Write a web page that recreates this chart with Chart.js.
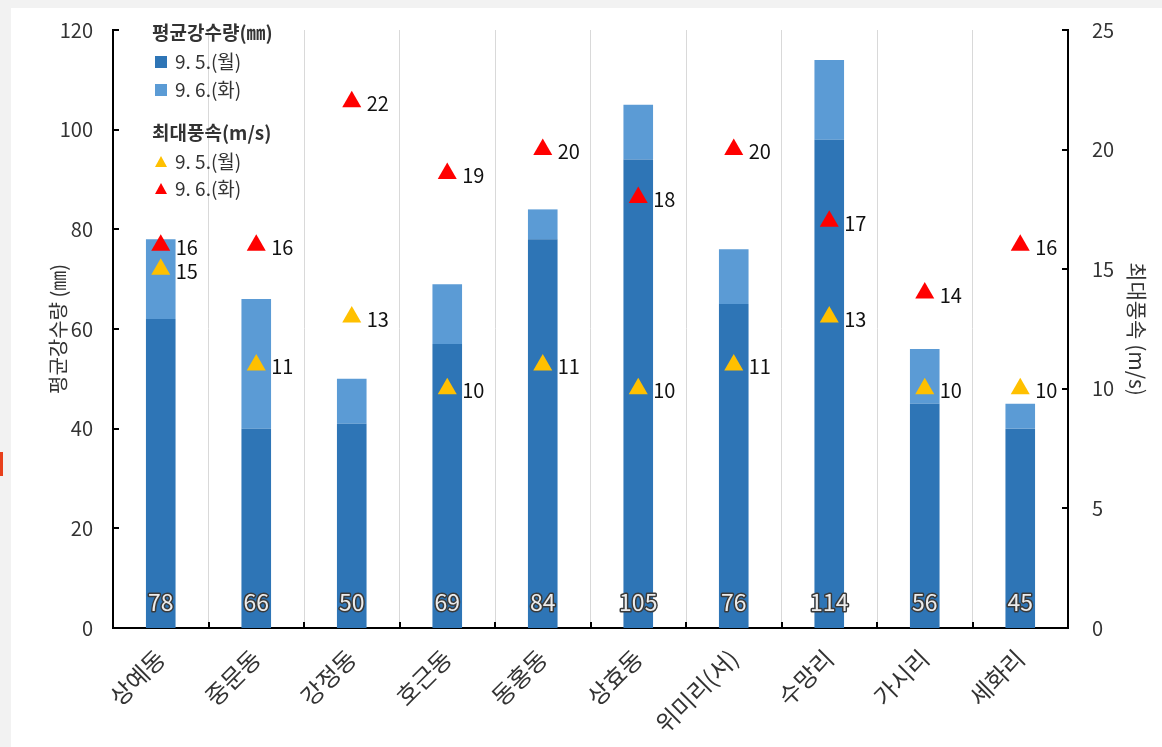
<!DOCTYPE html>
<html><head><meta charset="utf-8">
<script src="https://cdn.jsdelivr.net/npm/chart.js@4.4.1/dist/chart.umd.min.js"></script>
<style>
html,body{margin:0;padding:0;background:#f2f2f2;}
#wrap{position:absolute;left:0;top:0;width:1162px;height:747px;}
</style></head>
<body><div id="wrap"><canvas id="c" width="1162" height="747"></canvas></div>
<script>
const categories = ['상예동','중문동','강정동','호근동','동홍동','상효동','위미리(서)','수망리','가시리','세화리'];
const rainTotal = [78,66,50,69,84,105,76,114,56,45];
const rainDay1 = [62,40,41,57,78,94,65,98,45,40];
const rainDay2 = [16,26,9,12,6,11,11,16,11,5];
const windDay1 = [15,11,13,10,11,10,11,13,10,10];
const windDay2 = [16,16,22,19,20,18,20,17,14,16];
const leftTicks = [0,20,40,60,80,100,120];
const rightTicks = [0,5,10,15,20,25];

const FONT = "'Noto Sans CJK KR','Noto Sans',sans-serif";
const C_DARK = '#2E75B6', C_LIGHT = '#5B9BD5', C_YEL = '#FFC000', C_RED = '#FF0000';

const bgPlugin = {
  id:'bg',
  beforeDraw(chart){
    const ctx = chart.ctx;
    ctx.save();
    ctx.fillStyle = '#f2f2f2';
    ctx.fillRect(0,0,chart.width,chart.height);
    ctx.fillStyle = '#ffffff';
    ctx.fillRect(11,8,chart.width-11,chart.height-8);
    ctx.fillStyle = '#e8401c';
    ctx.fillRect(0,452,3,24);
    ctx.restore();
  }
};

const overlayPlugin = {
  id:'overlay',
  afterDatasetsDraw(chart){
    const ctx = chart.ctx;
    const a = chart.chartArea;
    const xs = chart.scales.x, ys = chart.scales.y, y1 = chart.scales.y1;
    ctx.save();
    // inward ticks
    ctx.strokeStyle = '#000'; ctx.lineWidth = 2;
    leftTicks.forEach(v=>{const y=Math.round(ys.getPixelForValue(v)); ctx.beginPath(); ctx.moveTo(a.left,y); ctx.lineTo(a.left+6,y); ctx.stroke();});
    rightTicks.forEach(v=>{const y=Math.round(y1.getPixelForValue(v)); ctx.beginPath(); ctx.moveTo(a.right,y); ctx.lineTo(a.right-6,y); ctx.stroke();});
    const n = categories.length;
    for(let i=1;i<n;i++){
      const x = Math.round((xs.getPixelForValue(i-1)+xs.getPixelForValue(i))/2);
      ctx.beginPath(); ctx.moveTo(x,a.bottom); ctx.lineTo(x,a.bottom-6); ctx.stroke();
    }
    // bar total labels
    const meta = chart.getDatasetMeta(0);
    ctx.font = '23px ' + FONT;
    ctx.textAlign = 'center'; ctx.textBaseline = 'middle';
    ctx.lineJoin = 'round';
    meta.data.forEach((el,i)=>{
      const t = String(rainTotal[i]);
      const y = ys.getPixelForValue(0) - 26;
      ctx.lineWidth = 3; ctx.strokeStyle = '#3a3a3a';
      ctx.strokeText(t, el.x, y);
      ctx.fillStyle = '#ececec';
      ctx.fillText(t, el.x, y);
    });
    // wind labels
    ctx.font = '20px ' + FONT;
    ctx.textAlign = 'left'; ctx.fillStyle = '#111';
    [[2,windDay1],[3,windDay2]].forEach(([di,arr])=>{
      chart.getDatasetMeta(di).data.forEach((p,i)=>{
        ctx.fillText(String(arr[i]), p.x+15, p.y+2);
      });
    });
    // legend
    const lx = 152;
    ctx.textBaseline = 'middle';
    ctx.fillStyle = '#333';
    ctx.font = 'bold 19px ' + FONT;
    ctx.fillText('평균강수량(㎜)', lx, 33);
    ctx.font = '19px ' + FONT;
    ctx.fillStyle = C_DARK; ctx.fillRect(155,56,12,12);
    ctx.fillStyle = C_LIGHT; ctx.fillRect(155,84,12,12);
    ctx.fillStyle = '#333';
    ctx.fillText('9. 5.(월)', 175, 62);
    ctx.fillText('9. 6.(화)', 175, 90);
    ctx.font = 'bold 19px ' + FONT;
    ctx.fillText('최대풍속(m/s)', lx, 133);
    ctx.font = '19px ' + FONT;
    const tri=(cx,cy,col)=>{ctx.fillStyle=col; ctx.beginPath(); ctx.moveTo(cx,cy-6); ctx.lineTo(cx+6,cy+5); ctx.lineTo(cx-6,cy+5); ctx.closePath(); ctx.fill();};
    tri(161,162,C_YEL); tri(161,189,C_RED);
    ctx.fillStyle = '#333';
    ctx.fillText('9. 5.(월)', 175, 162);
    ctx.fillText('9. 6.(화)', 175, 189);
    ctx.restore();
  }
};

Chart.defaults.font.family = FONT;
Chart.defaults.color = '#333';

new Chart(document.getElementById('c'), {
  data:{
    labels: categories,
    datasets:[
      {type:'bar', label:'9. 5.(월)', data: rainDay1, backgroundColor:C_DARK, yAxisID:'y', stack:'r', order:2, barPercentage:0.31, categoryPercentage:1},
      {type:'bar', label:'9. 6.(화)', data: rainDay2, backgroundColor:C_LIGHT, yAxisID:'y', stack:'r', order:2, barPercentage:0.31, categoryPercentage:1},
      {type:'line', label:'9. 5.(월)', data: windDay1, yAxisID:'y1', showLine:false, pointStyle:'triangle', pointRadius:11, pointHoverRadius:11, backgroundColor:C_YEL, borderColor:C_YEL, pointBorderWidth:0, order:1},
      {type:'line', label:'9. 6.(화)', data: windDay2, yAxisID:'y1', showLine:false, pointStyle:'triangle', pointRadius:11, pointHoverRadius:11, backgroundColor:C_RED, borderColor:C_RED, pointBorderWidth:0, order:0}
    ]
  },
  options:{
    responsive:false, animation:false,
    layout:{padding:{top:30,left:0,right:0,bottom:0}},
    plugins:{legend:{display:false}, tooltip:{enabled:false}},
    scales:{
      x:{
        stacked:true,
        offset:true,
        grid:{display:true, offset:true, color:'#d9d9d9', lineWidth:1, drawTicks:false},
        border:{display:true, color:'#000', width:2},
        ticks:{font:{size:24}, color:'#333', minRotation:45, maxRotation:45, padding:16},
        afterFit(s){ s.height = 119; }
      },
      y:{
        position:'left', stacked:true, min:0, max:120,
        afterBuildTicks(s){ s.ticks = leftTicks.map(v=>({value:v})); },
        grid:{display:false, drawTicks:false},
        border:{display:true, color:'#000', width:2},
        ticks:{font:{size:20, lineHeight:0.1}, color:'#333', padding:20},
        title:{display:true, text:'평균강수량 (㎜)', font:{size:20}, color:'#333', padding:{top:46, bottom:0}},
        afterFit(s){ s.width = 113; }
      },
      y1:{
        position:'right', min:0, max:25,
        afterBuildTicks(s){ s.ticks = rightTicks.map(v=>({value:v})); },
        grid:{display:false, drawTicks:false},
        border:{display:true, color:'#000', width:2},
        ticks:{font:{size:20, lineHeight:0.1}, color:'#333', padding:24},
        title:{display:true, text:'최대풍속 (m/s)', font:{size:21}, color:'#333', padding:{top:12, bottom:0}},
        afterFit(s){ s.width = 94; }
      }
    }
  },
  plugins:[bgPlugin, overlayPlugin]
});
</script></body></html>
